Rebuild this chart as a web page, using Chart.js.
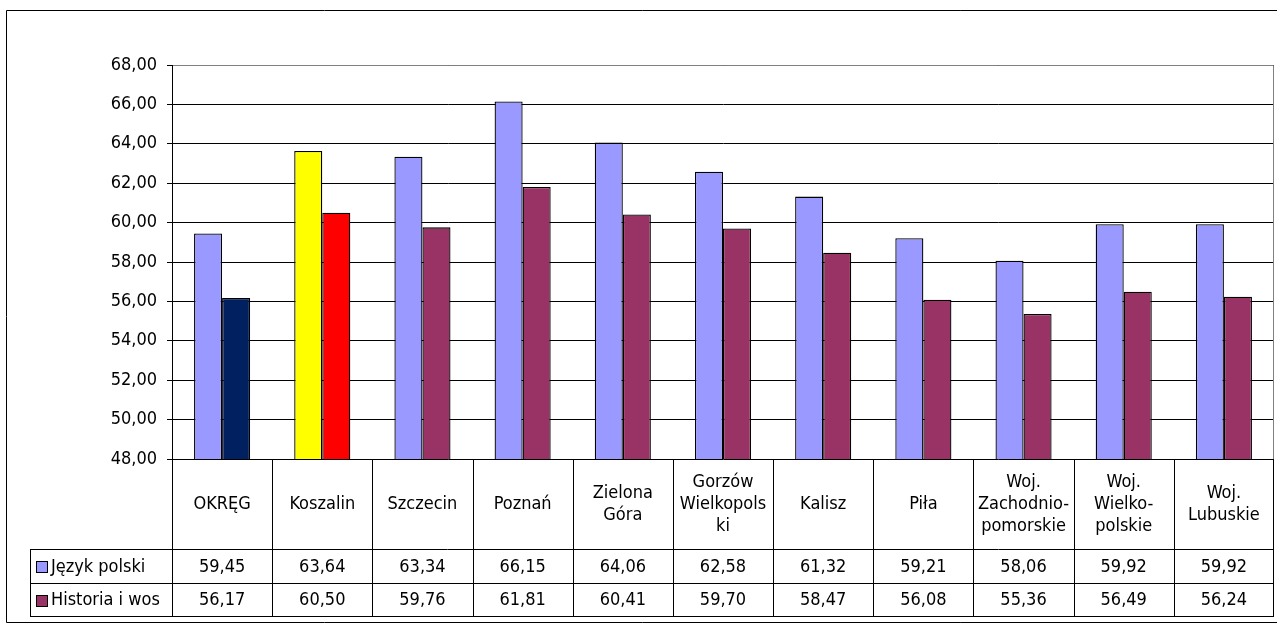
<!DOCTYPE html>
<html>
<head>
<meta charset="utf-8">
<script src="https://cdn.jsdelivr.net/npm/chart.js@4"></script>
<style>
  body { margin: 0; background: #fff; }
  canvas { display: block; }
</style>
</head>
<body>
<canvas id="wynikiChart" width="1277" height="625"></canvas>
<script>
// dane z wykresu
const categories = [
  'OKRĘG', 'Koszalin', 'Szczecin', 'Poznań', ['Zielona', 'Góra'],
  ['Gorzów', 'Wielkopols', 'ki'], 'Kalisz', 'Piła',
  ['Woj.', 'Zachodnio-', 'pomorskie'], ['Woj.', 'Wielko-', 'polskie'], ['Woj.', 'Lubuskie']
];
const seriesNames = ['Język polski', 'Historia i wos'];
const jezykPolski = [59.45, 63.64, 63.34, 66.15, 64.06, 62.58, 61.32, 59.21, 58.06, 59.92, 59.92];
const historiaWos = [56.17, 60.50, 59.76, 61.81, 60.41, 59.70, 58.47, 56.08, 55.36, 56.49, 56.24];
const yMin = 48, yMax = 68, yStep = 2;

const FONT = '"DejaVu Sans Condensed", "Liberation Sans Narrow", sans-serif';
const colPolski = '#9999FF';
const colHistoria = '#993366';

// OKRĘG i Koszalin maja wyroznione kolory
const colorsPolski = jezykPolski.map((v, i) => i === 1 ? '#FFFF00' : colPolski);
const colorsHistoria = historiaWos.map((v, i) => i === 0 ? '#002060' : (i === 1 ? '#FF0000' : colHistoria));

function fmt(v) {
  return v.toFixed(2).replace('.', ',');
}

// tabela danych pod wykresem + ramki
const dataTablePlugin = {
  id: 'dataTable',
  afterDraw(chart) {
    const ctx = chart.ctx;
    const area = chart.chartArea;
    const xs = chart.scales.x;
    const n = categories.length;
    const colW = (area.right - area.left) / n;
    const rowTop = area.bottom;
    const row1 = 549, row2 = 583, row3 = 616;
    const tableLeft = 30;

    ctx.save();
    ctx.strokeStyle = '#000';
    ctx.lineWidth = 1;

    // ramka calego wykresu
    ctx.beginPath();
    ctx.rect(6.5, 10.5, 1300, 612);
    ctx.stroke();

    // gorna i prawa krawedz obszaru wykresu
    const topY = Math.round(chart.scales.y.getPixelForValue(yMax)) + 0.5;
    ctx.strokeStyle = '#808080';
    ctx.beginPath();
    ctx.moveTo(Math.round(area.left) + 1, topY);
    ctx.lineTo(Math.round(area.right) - 0.5, topY);
    ctx.lineTo(Math.round(area.right) - 0.5, rowTop);
    ctx.stroke();

    ctx.strokeStyle = '#000';
    ctx.beginPath();
    // linie poziome
    ctx.moveTo(area.left, row1 + 0.5); ctx.lineTo(area.right, row1 + 0.5);
    ctx.moveTo(tableLeft + 0.5, row1 + 0.5); ctx.lineTo(area.left, row1 + 0.5);
    ctx.moveTo(tableLeft, row2 + 0.5); ctx.lineTo(area.right, row2 + 0.5);
    ctx.moveTo(tableLeft, row3 + 0.5); ctx.lineTo(area.right, row3 + 0.5);
    // linie pionowe
    ctx.moveTo(tableLeft + 0.5, row1); ctx.lineTo(tableLeft + 0.5, row3 + 1);
    for (let i = 0; i <= n; i++) {
      const x = Math.round(area.left + i * colW) + (i === n ? -0.5 : 0.5);
      ctx.moveTo(x, rowTop); ctx.lineTo(x, row3 + 1);
    }
    ctx.stroke();

    ctx.fillStyle = '#000';
    ctx.font = '18px ' + FONT;
    ctx.textAlign = 'center';
    ctx.textBaseline = 'middle';

    // etykiety kategorii
    const lineH = 22;
    const midCat = (rowTop + row1) / 2;
    categories.forEach((c, i) => {
      const lines = Array.isArray(c) ? c : [c];
      const cx = xs.getPixelForValue(i);
      const start = midCat - (lines.length - 1) * lineH / 2;
      lines.forEach((t, k) => ctx.fillText(t, cx, start + k * lineH));
    });

    // wartosci
    const mid1 = (row1 + row2) / 2 + 1;
    const mid2 = (row2 + row3) / 2 + 1;
    jezykPolski.forEach((v, i) => ctx.fillText(fmt(v), xs.getPixelForValue(i), mid1));
    historiaWos.forEach((v, i) => ctx.fillText(fmt(v), xs.getPixelForValue(i), mid2));

    // legenda w tabeli
    ctx.textAlign = 'left';
    [[seriesNames[0], colPolski, mid1], [seriesNames[1], colHistoria, mid2]].forEach(([name, col, y]) => {
      ctx.fillStyle = col;
      ctx.fillRect(36, Math.round(y - 6), 12, 12);
      ctx.strokeStyle = '#000';
      ctx.strokeRect(36.5, Math.round(y - 6) + 0.5, 11, 11);
      ctx.fillStyle = '#000';
      ctx.fillText(name, 51, y);
    });

    ctx.restore();
  }
};

const ctx = document.getElementById('wynikiChart').getContext('2d');
window.wynikiChart = new Chart(ctx, {
  type: 'bar',
  data: {
    labels: categories,
    datasets: [{
      label: seriesNames[0],
      data: jezykPolski,
      backgroundColor: colorsPolski,
      borderColor: '#000',
      borderWidth: 1.3,
      borderSkipped: false
    }, {
      label: seriesNames[1],
      data: historiaWos,
      backgroundColor: colorsHistoria,
      borderColor: '#000',
      borderWidth: 1.3,
      borderSkipped: false
    }]
  },
  options: {
    responsive: false,
    animation: false,
    layout: {
      padding: { left: 0, right: 3, top: 65, bottom: 166 }
    },
    datasets: {
      bar: { categoryPercentage: 0.56, barPercentage: 1.0 }
    },
    plugins: {
      legend: { display: false },
      tooltip: { enabled: false },
      title: { display: false }
    },
    scales: {
      x: {
        display: false,
        offset: true
      },
      y: {
        min: yMin,
        max: yMax,
        afterFit(scale) { scale.width = 172; },
        ticks: {
          stepSize: yStep,
          color: '#000',
          padding: 10,
          font: { family: FONT, size: 18 },
          callback: (v) => fmt(v)
        },
        grid: {
          color: '#000',
          lineWidth: 1,
          tickLength: 5,
          drawTicks: true
        },
        border: { display: true, color: '#000', width: 1 }
      }
    }
  },
  plugins: [dataTablePlugin]
});
</script>
</body>
</html>
